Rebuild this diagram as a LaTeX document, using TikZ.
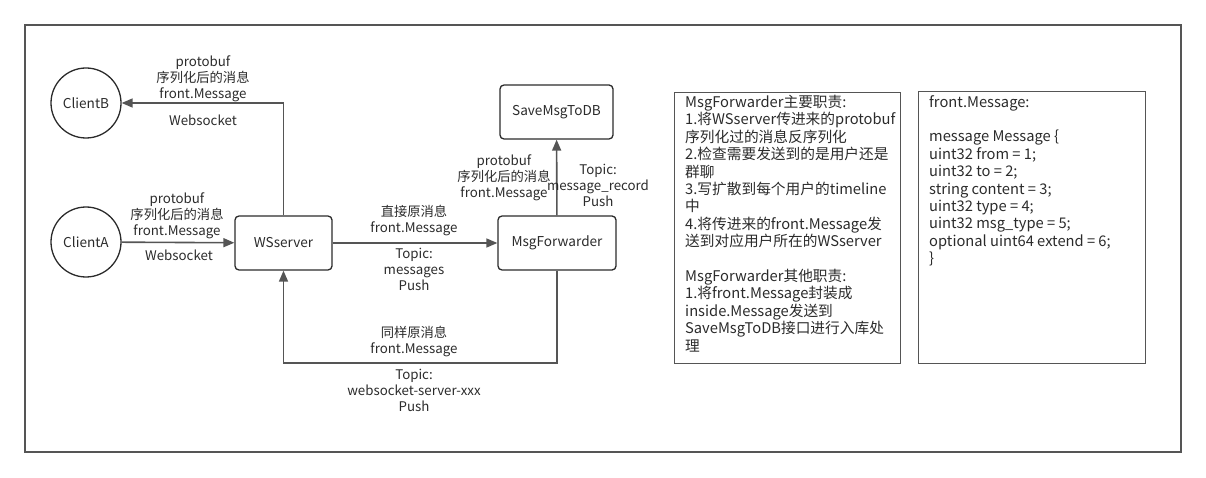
\documentclass[tikz,border=0pt]{standalone}
\usepackage{fontspec}
\setmainfont{Noto Sans CJK SC}
\usetikzlibrary{arrows.meta}
\definecolor{ln}{HTML}{555555}
\definecolor{tx}{HTML}{2b2b2b}
\begin{document}
\begin{tikzpicture}[x=1pt,y=-1pt,
  every node/.style={text=tx,font=\fontsize{13.3}{16}\selectfont},
  circ/.style={draw=tx,line width=1.3pt,circle,minimum size=70pt,inner sep=0pt,font=\fontsize{13.6}{16}\selectfont},
  box/.style={draw=tx,line width=1.3pt,rounded corners=4pt,minimum height=54pt,inner sep=0pt,font=\fontsize{13.6}{16}\selectfont},
  frame/.style={draw=ln,line width=1.4pt},
  conn/.style={draw=ln,line width=1.6pt,-{Triangle[length=11pt,width=9pt]}},
  lbl/.style={align=center,inner sep=0pt},
  tbox/.style={draw=ln,line width=1.4pt,inner sep=0pt,anchor=north west},
  ttext/.style={align=left,anchor=north west,inner sep=0pt,font=\fontsize{14.7}{17.4}\selectfont}]
\useasboundingbox (0,0) rectangle (1206,478);
\draw[frame] (25,25) rectangle (1181,452);
\node[circ] (cb) at (86,103) {ClientB};
\node[circ] (ca) at (86,242) {ClientA};
\node[box,minimum width=97pt] (ws) at (283.5,243) {WSserver};
\node[box,minimum width=118pt] (mf) at (557,243) {MsgForwarder};
\node[box,minimum width=113pt] (db) at (556.5,112) {SaveMsgToDB};
\coordinate (c1) at (557,363);
\draw[conn] (ca) -- (ws);
\draw[conn] (ws.north) |- (cb);
\draw[conn] (ws) -- (mf);
\draw[conn] (mf) -- (db);
\draw[conn] (mf.south) -- (c1) -| (ws.south);
\node[lbl] (l1) at (203,79) {protobuf\\序列化后的消息\\front.Message};
\node[lbl] (l2) at (203,120) {Websocket};
\node[lbl] (l3) at (177,216) {protobuf\\序列化后的消息\\front.Message};
\node[lbl] (l4) at (179,255) {Websocket};
\node[lbl] (l5) at (414,221) {直接原消息\\front.Message};
\node[lbl] (l6) at (414,269) {Topic:\\messages\\Push};
\node[lbl] (l7) at (504,178) {protobuf\\序列化后的消息\\front.Message};
\node[lbl] (l8) at (598,185) {Topic:\\message\_record\\Push};
\node[lbl] (l9) at (414,342) {同样原消息\\front.Message};
\node[lbl] (l10) at (414,390) {Topic:\\websocket-server-xxx\\Push};
\node[tbox,minimum width=226pt,minimum height=271pt] (t1) at (674,92) {};
\node[ttext] (t1t) at (685,95) {MsgForwarder主要职责:\\1.将WSserver传进来的protobuf\\序列化过的消息反序列化\\2.检查需要发送到的是用户还是\\群聊\\3.写扩散到每个用户的timeline\\中\\4.将传进来的front.Message发\\送到对应用户所在的WSserver\\[17.4pt]MsgForwarder其他职责:\\1.将front.Message封装成\\inside.Message发送到\\SaveMsgToDB接口进行入库处\\理};
\node[tbox,minimum width=227pt,minimum height=272pt] (t2) at (918,91) {};
\node[ttext] (t2t) at (929,95) {front.Message:\\[17.4pt]message Message \{\\uint32 from = 1;\\uint32 to = 2;\\string content = 3;\\uint32 type = 4;\\uint32 msg\_type = 5;\\optional uint64 extend = 6;\\\}};
\end{tikzpicture}
\end{document}
